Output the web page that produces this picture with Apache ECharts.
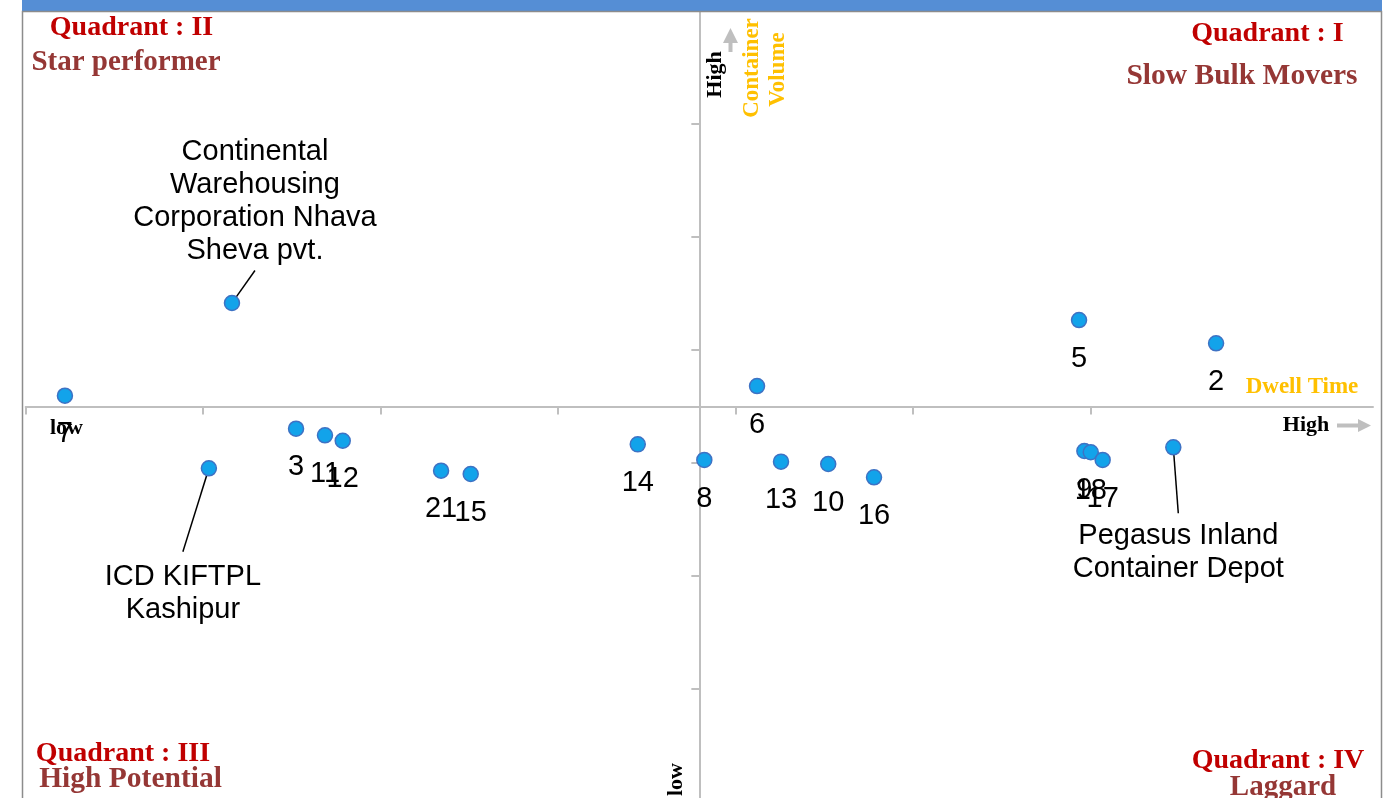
<!DOCTYPE html>
<html>
<head>
<meta charset="utf-8">
<script src="https://cdn.jsdelivr.net/npm/echarts@6/dist/echarts.min.js"></script>
<style>
html,body{margin:0;padding:0;background:#ffffff;}
#c{width:1390px;height:798px;}
</style>
</head>
<body>
<div id="c"></div>
<script>
// ---- data (axis units: one tick step; 0 = where the two axes cross) ----
const pointLabels = ['7', 'Continental\nWarehousing\nCorporation Nhava\nSheva pvt.', '3', '11', '12',
  'ICD KIFTPL\nKashipur', '21', '15', '14', '8', '6', '13', '10', '16', '5', '2', '9', '18', '17',
  'Pegasus Inland\nContainer Depot'];
const dwellTime = [-3.574, -2.633, -2.272, -2.109, -2.009, -2.763, -1.455, -1.288, -0.347, 0.028,
  0.325, 0.460, 0.726, 0.984, 2.139, 2.911, 2.169, 2.205, 2.272, 2.670];
const containerVolume = [0.096, 0.916, -0.196, -0.255, -0.303, -0.547, -0.568, -0.597, -0.335, -0.473,
  0.181, -0.488, -0.509, -0.627, 0.765, 0.559, -0.394, -0.405, -0.473, -0.361];

// ---- layout / style ----
const X_MIN = -3.795, X_MAX = 3.795, Y_MIN = -3.5, Y_MAX = 3.5, STEP = 1;
const axisGray = '#BFBFBF';
const gold = '#FFC000';
const red = '#C00000';
const brown = '#953735';
const serif = '"Liberation Serif", "Times New Roman", serif';
const sans = '"Liberation Sans", Arial, sans-serif';

// offsets for the three named labels (index -> shift from the marker, padding)
const callouts = {
  1: { dx: 23, dy: -101.5, pad: 3 },
  5: { dx: -26, dy: 125.5, pad: 9 },
  19: { dx: 5, dy: 105, pad: 6 }
};

const xTicks = [];
for (let v = X_MIN; v <= X_MAX - STEP + 1e-9; v += STEP) xTicks.push(+v.toFixed(4));

const data = pointLabels.map((lab, i) => {
  const item = { name: lab, value: [dwellTime[i], containerVolume[i]] };
  const c = callouts[i];
  if (c) {
    item.label = { position: 'inside', padding: [c.pad, 0, c.pad, 0], align: 'center' };
    item.labelLine = { show: true, lineStyle: { color: '#000', width: 1.5 } };
  }
  return item;
});

const chart = echarts.init(document.getElementById('c'));

function txt(text, x, y, size, color, opts) {
  opts = opts || {};
  return {
    type: 'text', x: x, y: y, z: 50, rotation: opts.rot || 0, silent: true,
    style: {
      text: text, fill: color,
      font: (opts.weight || 'bold') + ' ' + size + 'px ' + serif,
      align: 'center', verticalAlign: 'middle'
    }
  };
}

const option = {
  animation: false,
  backgroundColor: '#ffffff',
  grid: { left: 25.7, top: 11, width: 1347.3, height: 791, containLabel: false, outerBoundsMode: 'none' },
  xAxis: {
    type: 'value', min: X_MIN, max: X_MAX, interval: STEP,
    axisLine: { show: true, onZero: true, lineStyle: { color: axisGray, width: 2 } },
    axisTick: { show: true, length: 8, customValues: xTicks, lineStyle: { color: axisGray, width: 2 } },
    axisLabel: { show: false },
    splitLine: { show: false }
  },
  yAxis: {
    type: 'value', min: Y_MIN, max: Y_MAX, interval: STEP,
    axisLine: { show: true, onZero: true, lineStyle: { color: axisGray, width: 2 } },
    axisTick: { show: true, length: 8, lineStyle: { color: axisGray, width: 2 } },
    axisLabel: { show: false },
    splitLine: { show: false }
  },
  series: [{
    type: 'scatter',
    symbol: 'circle',
    symbolSize: 15,
    itemStyle: { color: '#12A3EA', borderColor: '#3E72C4', borderWidth: 1.5, opacity: 1 },
    label: {
      show: true, position: 'bottom', distance: 14,
      formatter: '{b}', color: '#000', fontFamily: sans, fontSize: 29, lineHeight: 33,
      textBorderWidth: 0
    },
    labelLine: { show: false },
    labelLayout: function (p) {
      const c = callouts[p.dataIndex];
      return c ? { dx: c.dx, dy: c.dy } : {};
    },
    emphasis: { disabled: true },
    data: data,
    z: 10
  }],
  graphic: [
    { type: 'rect', z: 40, silent: true, shape: { x: 22, y: 0, width: 1360, height: 11 }, style: { fill: '#558ED5' } },
    { type: 'rect', z: 60, silent: true, shape: { x: 22.5, y: 11.5, width: 1359, height: 800 }, style: { fill: 'none', stroke: '#8C8C8C', lineWidth: 1.5 } },

    txt('Quadrant : II', 131.5, 28, 28, red),
    txt('Star performer', 126, 63, 29, brown),
    txt('Quadrant : I', 1267.5, 34, 28, red),
    txt('Slow Bulk Movers', 1242, 76, 29.5, brown),
    txt('Quadrant : III', 123, 754, 28, red),
    txt('High Potential', 130.5, 779, 29.5, brown),
    txt('Quadrant : IV', 1278, 761, 28, red),
    txt('Laggard', 1283, 788, 29, brown),

    txt('High', 715, 74.5, 22, '#000', { rot: Math.PI / 2 }),
    txt('Container', 752, 68, 23, gold, { rot: Math.PI / 2 }),
    txt('Volume', 778, 69.5, 23, gold, { rot: Math.PI / 2 }),
    txt('Dwell Time', 1302, 387, 23, gold),
    txt('High', 1306, 425, 22, '#000'),
    txt('low', 66.5, 428, 22, '#000'),
    txt('low', 676, 779.5, 22, '#000', { rot: Math.PI / 2 }),

    { type: 'polygon', z: 45, silent: true, shape: { points: [[728.5, 52], [732.5, 52], [732.5, 43], [738, 43], [730.5, 28], [723, 43], [728.5, 43]] }, style: { fill: axisGray } },
    { type: 'polygon', z: 45, silent: true, shape: { points: [[1337, 423.5], [1358, 423.5], [1358, 419], [1371, 425.5], [1358, 432], [1358, 427.5], [1337, 427.5]] }, style: { fill: axisGray } }
  ]
};

chart.setOption(option);
</script>
</body>
</html>
